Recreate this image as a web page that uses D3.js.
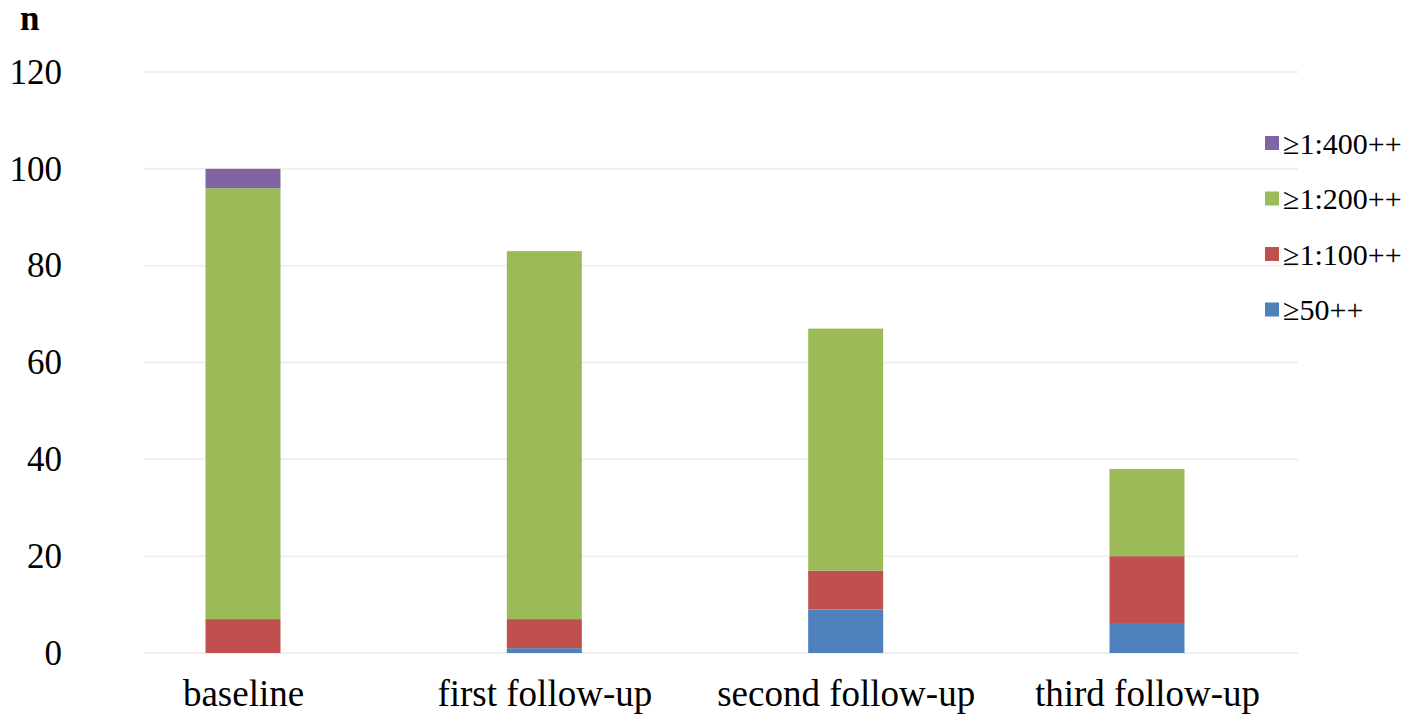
<!DOCTYPE html>
<html><head><meta charset="utf-8">
<script src="https://cdn.jsdelivr.net/npm/d3@7"></script>
<style>body{margin:0;background:#fff}svg{display:block}svg text{font-family:"Liberation Serif","DejaVu Serif",serif}</style>
</head><body>
<script>
const categories = ["baseline", "first follow-up", "second follow-up", "third follow-up"];
const seriesNames = ["≥50++", "≥1:100++", "≥1:200++", "≥1:400++"];
const s50 = [0, 1, 9, 6];
const s100 = [7, 6, 8, 14];
const s200 = [89, 76, 50, 18];
const s400 = [4, 0, 0, 0];
const yTicks = [0, 20, 40, 60, 80, 100, 120];
const colors = ["#4f81bd", "#c0504d", "#9bbb59", "#8064a2"];

const W = 1418, H = 728;
const svg = d3.select("body").append("svg").attr("width", W).attr("height", H);
const font = "Liberation Serif, DejaVu Serif, serif";

const y = d3.scaleLinear().domain([0, 120]).range([653, 72]);
const x = d3.scalePoint().domain(categories).range([243, 1147]);
const barW = 75;

svg.append("g").selectAll("line").data(yTicks).join("line")
  .attr("x1", 144).attr("x2", 1298)
  .attr("y1", d => y(d)).attr("y2", d => y(d))
  .attr("stroke", "#efefef").attr("stroke-width", 2);

const yAxis = svg.append("g").attr("transform", "translate(62,0)")
  .call(d3.axisLeft(y).tickValues(yTicks).tickSize(0).tickPadding(0));
yAxis.attr("font-family", null);
yAxis.select(".domain").remove();
yAxis.selectAll("text").style("font-family", font).attr("font-size", 35).attr("fill", "#000");

svg.append("text").attr("x", 20).attr("y", 30).text("n")
  .style("font-family", font).attr("font-size", 35).attr("font-weight", "bold").attr("fill", "#000");

const rows = categories.map((c, i) => ({cat: c, s0: s50[i], s1: s100[i], s2: s200[i], s3: s400[i]}));
const stack = d3.stack().keys(["s0", "s1", "s2", "s3"])(rows);

svg.append("g").selectAll("g").data(stack).join("g")
  .attr("fill", (d, i) => colors[i])
  .selectAll("rect").data(d => d).join("rect")
  .attr("x", d => x(d.data.cat) - barW / 2)
  .attr("width", barW)
  .attr("y", d => y(d[1]))
  .attr("height", d => y(d[0]) - y(d[1]));

const xAxis = svg.append("g").attr("transform", "translate(0,680)")
  .call(d3.axisBottom(x).tickSize(0).tickPadding(0));
xAxis.attr("font-family", null);
xAxis.select(".domain").remove();
xAxis.selectAll("text").style("font-family", font).attr("font-size", 37).attr("fill", "#000").attr("dy", "0.71em");

const legendOrder = [3, 2, 1, 0];
const lg = svg.append("g").selectAll("g").data(legendOrder).join("g")
  .attr("transform", (d, i) => `translate(1265,${143 + i * 55.5})`);
lg.append("rect").attr("x", 0).attr("y", -7).attr("width", 14).attr("height", 14)
  .attr("fill", d => colors[d]);
lg.append("text").attr("x", 18).attr("y", 0).attr("dy", "0.35em")
  .text(d => seriesNames[d])
  .style("font-family", font).attr("font-size", 30).attr("fill", "#000");
</script>
</body></html>
